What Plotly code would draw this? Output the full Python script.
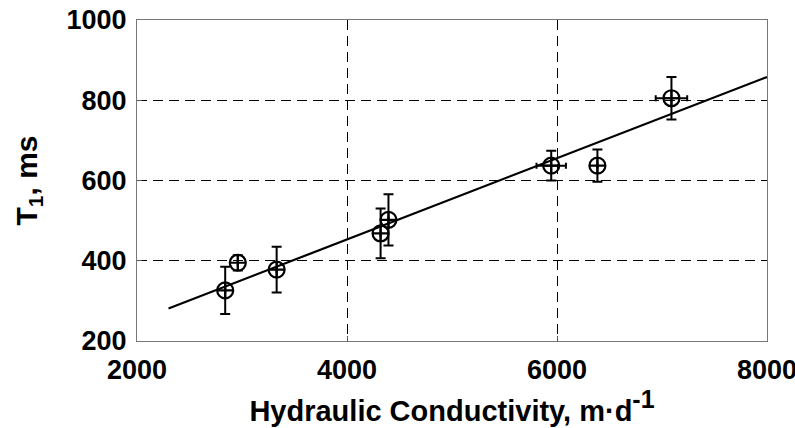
import plotly.graph_objects as go

# Data
conductivity = [2840, 2960, 3330, 4320, 4395, 5945, 6385, 7090]
t1_ms = [326, 395, 378, 468, 502, 637, 637, 805]
t1_err = [59, 19, 57, 62, 64, 37, 40, 53]
cond_err = [0, 0, 0, 0, 0, 140, 0, 150]

fit_x = [2300, 8000]
fit_y = [281, 858]

x_ticks = [2000, 4000, 6000, 8000]
y_ticks = [200, 400, 600, 800, 1000]

fig = go.Figure()

fig.add_trace(go.Scatter(
    x=fit_x, y=fit_y, mode="lines",
    line=dict(color="black", width=2.2),
    showlegend=False, hoverinfo="skip",
))

fig.add_trace(go.Scatter(
    x=conductivity, y=t1_ms, mode="markers",
    marker=dict(symbol="circle-cross-open", size=16, color="black",
                line=dict(color="black", width=2.2)),
    error_y=dict(type="data", array=t1_err, visible=True,
                 color="black", thickness=2, width=5),
    error_x=dict(type="data", array=cond_err, visible=True,
                 color="black", thickness=2, width=3),
    showlegend=False,
))

tick_font = dict(family="Liberation Sans", size=27, color="black", weight="bold")

axis_common = dict(
    showline=True, linecolor="#777777", linewidth=1, mirror=True,
    ticks="inside", ticklen=5, tickcolor="#555555",
    showgrid=True, gridcolor="black", gridwidth=1, griddash="10px,6px",
    zeroline=False, automargin=False, ticklabeloverflow="allow",
    tickfont=tick_font,
)

fig.update_xaxes(
    range=[2000, 8000], tickvals=x_ticks,
    ticktext=[str(v) for v in x_ticks],
    ticklabelstandoff=5,
    title=dict(text="<b>Hydraulic Conductivity, m·d<sup><span style='font-size:25px'>-1</span></sup></b>",
               font=dict(family="Liberation Sans", size=29, color="black"),
               standoff=11),
    **axis_common,
)
fig.update_yaxes(
    range=[200, 1000], tickvals=y_ticks,
    ticktext=[str(v) for v in y_ticks],
    ticklabelstandoff=4,
    title=dict(text="<b>T<sub>1</sub>, ms</b>",
               font=dict(family="Liberation Sans", size=30, color="black"),
               standoff=20),
    **axis_common,
)

fig.update_layout(
    width=795, height=428,
    margin=dict(l=137, r=28, t=20, b=87, autoexpand=False),
    paper_bgcolor="white", plot_bgcolor="white",
)

fig.write_html(
    "out.html",
    config={"displayModeBar": False},
    post_script="document.body.style.margin='0';document.body.style.overflow='hidden';",
)
